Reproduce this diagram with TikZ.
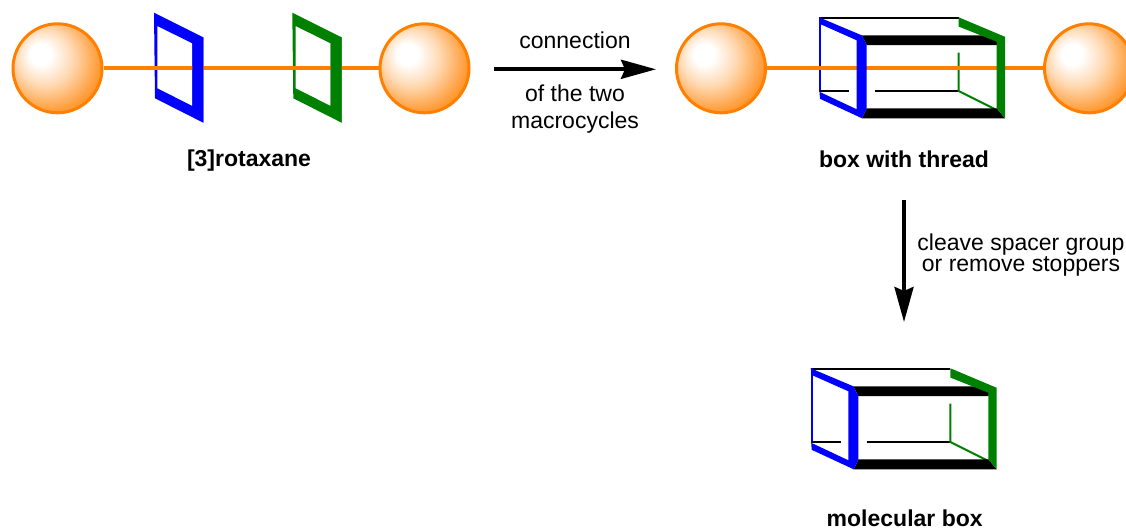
\documentclass[tikz,border=0pt]{standalone}
\usepackage{fontspec}
\setmainfont{Liberation Sans}
\usetikzlibrary{arrows.meta}

\definecolor{thread}{RGB}{255,128,0}
\definecolor{ringblue}{RGB}{0,0,255}
\definecolor{ringgreen}{RGB}{0,128,0}

% stopper spheres: white highlight upper left, fading to orange
\pgfdeclareradialshading{stopper}{\pgfpoint{-11bp}{9bp}}{%
  color(0bp)=(white); color(6bp)=(white);
  color(16bp)=(thread!30!white); color(26bp)=(thread!70!white);
  color(34bp)=(thread); color(50bp)=(thread)}

\tikzset{
  stopper/.style={circle, inner sep=0pt, minimum size=89pt,
    draw=thread, line width=3pt, shading=stopper},
  threadline/.style={draw=thread, line width=4.3pt},
  thinedge/.style={line width=2pt},
  reaction/.style={line width=3.8pt,
    -{Stealth[length=35pt,width=19pt,inset=4pt]}},
  caption/.style={anchor=base, inner sep=0pt,
    font=\fontsize{23}{26}\selectfont\bfseries},
  note/.style={anchor=base, inner sep=0pt,
    font=\fontsize{23}{26}\selectfont},
  % macrocycle seen in perspective (whole ring)
  pics/ring/.style={code={
    \fill[#1, even odd rule]
      (0,0) -- (49.3,24.6) -- (49.3,110) -- (1,85.6) -- cycle
      (3.3,13.3) -- (38.3,30.6) -- (38.3,93.3) -- (3.3,75.6) -- cycle;
  }},
  % near side of the ring, laid over the thread
  pics/ringfront/.style={code={
    \fill[#1] (38.3,30.6) -- (49.3,24.6) -- (49.3,110) -- (38.3,93.3) -- cycle;
  }},
  % far edges of the box
  pics/cageback/.style={code={
    \draw[thinedge, black] (0,0.5) -- (139.7,0.5);
    \draw[thinedge, ringblue] (1,0) -- (1,75);
    \draw[thinedge, black] (1,73.7) -- (30,73.7) (56,73.7) -- (139.7,73.7);
    \draw[thinedge, ringgreen] (139.7,35.3) -- (139.7,73.7) -- (177.7,92.7);
  }},
  % near edges of the box, drawn as bold bonds
  pics/cagefront/.style={code={
    \fill[black] (42.7,18) -- (181,18) -- (177.7,27.7) -- (47.7,27.7) -- cycle;
    \fill[black] (47.7,91) -- (177.7,91) -- (186,101) -- (43,101) -- cycle;
    \fill[ringblue] (0,0) -- (42.7,18) -- (47.7,27.7) -- (47.7,91)
      -- (43,101) -- (1,81.5) -- (0.5,74.5) -- (37.7,92) -- (37.7,23)
      -- (1,6.7) -- cycle;
    \fill[ringgreen] (139.7,0) -- (186,19.5) -- (186,101) -- (177.7,91)
      -- (177.7,24.4) -- (139.7,9.3) -- cycle;
  }},
}

\begin{document}
\begin{tikzpicture}[x=1pt, y=-1pt]
\useasboundingbox (0,0) rectangle (1126,530);

% ---- [3]rotaxane ----
\pic at (154,12.7) {ring=ringblue};
\pic at (292.3,12.7) {ring=ringgreen};
\node[stopper] (s1) at (57.5,68.3) {};
\node[stopper] (s2) at (424.5,68.3) {};
\draw[threadline] (s1) -- (s2);
\pic at (154,12.7) {ringfront=ringblue};
\pic at (292.3,12.7) {ringfront=ringgreen};
\node[caption] (rotaxane) at (249,166.7) {[3]rotaxane};

% ---- first step ----
\coordinate (a1) at (494,69.3);
\coordinate (a2) at (656,69.3);
\draw[reaction] (a1) -- (a2);
\node[note] (step1a) at (575,48.3) {connection};
\node[note] (step1b) at (575,101.7) {of the two};
\node[note] (step1c) at (575,128.3) {macrocycles};

% ---- box with thread ----
\pic at (819,17.3) {cageback};
\node[stopper] (s3) at (721,68.3) {};
\node[stopper] (s4) at (1089,68.3) {};
\draw[threadline] (s3) -- (s4);
\pic at (819,17.3) {cagefront};
\node[caption] (threaded) at (904,167.7) {box with thread};

% ---- second step ----
\coordinate (b1) at (904,200);
\coordinate (b2) at (904,322);
\draw[reaction] (b1) -- (b2);
\node[note] (step2a) at (1021,250.7) {cleave spacer group};
\node[note] (step2b) at (1021,271.7) {or remove stoppers};

% ---- molecular box ----
\pic at (810.7,368.3) {cageback};
\pic at (810.7,368.3) {cagefront};
\node[caption] (box) at (904.7,526.7) {molecular box};
\end{tikzpicture}
\end{document}
